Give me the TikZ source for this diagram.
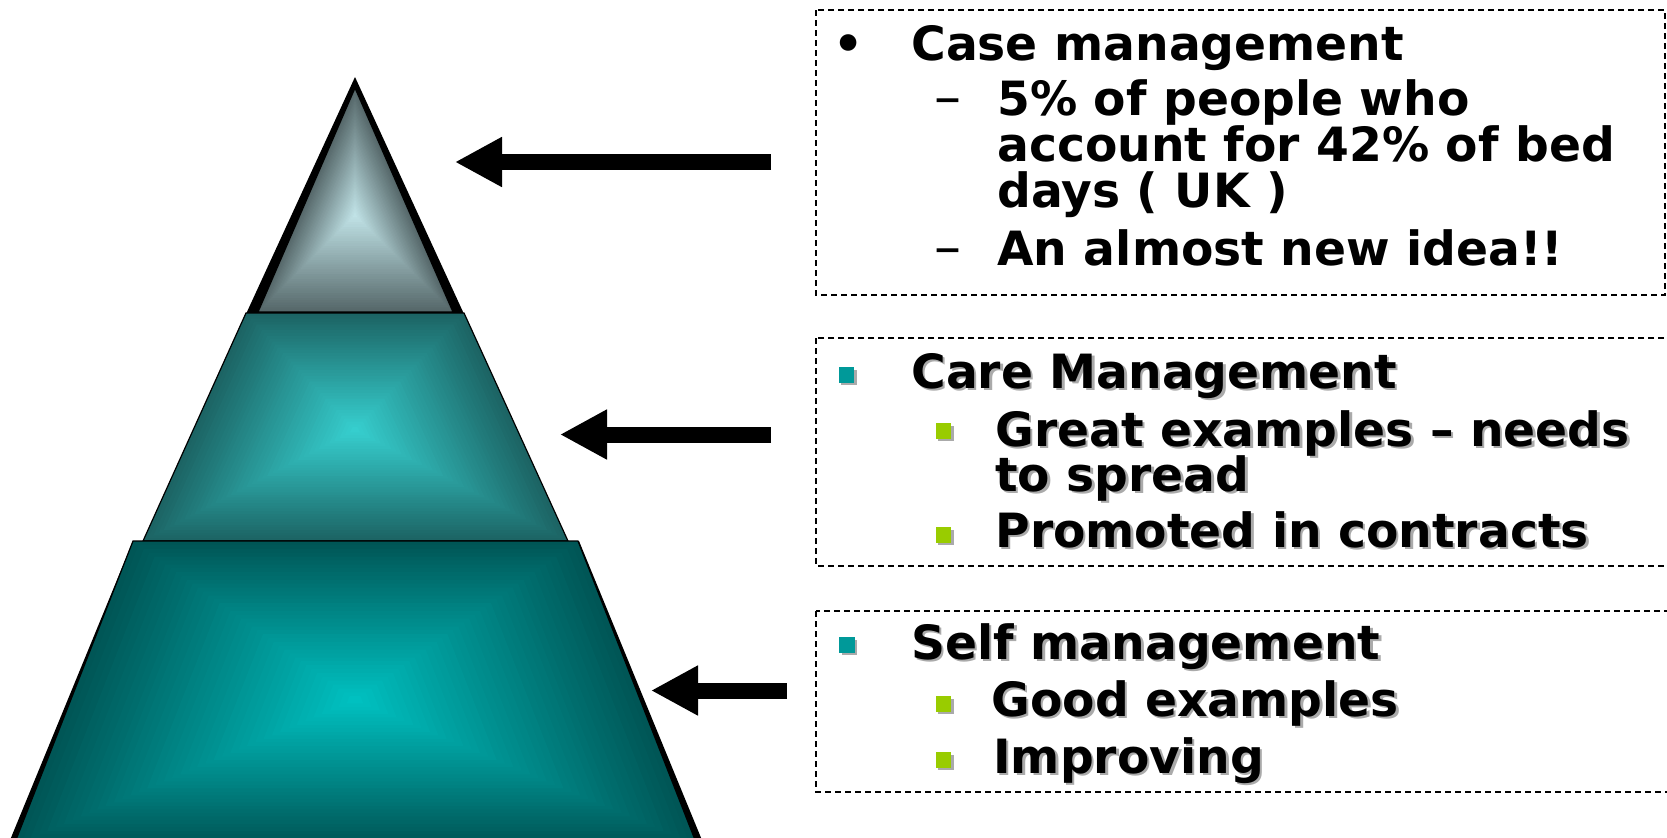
\documentclass[tikz,border=0pt]{standalone}
\usepackage{fontspec}
\setmainfont{DejaVu Sans}
\usetikzlibrary{arrows.meta}
\definecolor{tealbul}{RGB}{0,153,153}
\definecolor{greenbul}{RGB}{153,204,0}
\definecolor{shadowgrey}{RGB}{170,170,170}
\definecolor{botedge}{RGB}{0,86,86}
\definecolor{botcen}{RGB}{0,192,192}
\definecolor{midedge}{RGB}{28,100,100}
\definecolor{midcen}{RGB}{54,206,206}
\definecolor{topedge}{RGB}{86,104,106}
\definecolor{topcen}{RGB}{192,226,230}
\tikzset{
  txt/.style={anchor=base west, inner sep=0pt, font=\fontsize{23.6pt}{28pt}\selectfont\bfseries},
  dashtxt/.style={anchor=base west, inner sep=0pt, font=\fontsize{27pt}{28pt}\selectfont\mdseries},
  shd/.style={txt, text=shadowgrey},
  dbox/.style={draw=black, line width=0.6pt, dash pattern=on 3pt off 2pt},
  arr/.style={line width=8pt, -{Triangle[length=23.5pt,width=23.5pt]}},
  sqshadow/.style={fill=shadowgrey, minimum size=7.8pt, inner sep=0pt, draw=none},
  sqteal/.style={fill=tealbul, minimum size=7.8pt, inner sep=0pt, draw=none},
  sqgreen/.style={fill=greenbul, minimum size=7.8pt, inner sep=0pt, draw=none},
  outline/.style={draw=black, line width=0.6pt},
}
\newcommand\stxt[4]{%
  \node[shd] (#1s) at (#2+2.5,#3+2.5) {#4};
  \node[txt] (#1) at (#2,#3) {#4};}
\newcommand\sqb[4]{%
  \node[sqshadow] (#1s) at (#2+2.5,#3+2.5) {};
  \node[#4] (#1) at (#2,#3) {};}
\begin{document}
\begin{tikzpicture}[x=0.5pt,y=-0.5pt]
\useasboundingbox (0,0) rectangle (1667,837);
\begin{scope}
\clip (0,0) rectangle (1667,837);
% top triangle
\fill[black] (355,77) -- (464,314) -- (246,314) -- cycle;
\foreach \i in {0,...,40}{
  \pgfmathtruncatemacro\p{100*\i/40}
  \pgfmathsetmacro\s{1-\i/41}
  \fill[topcen!\p!topedge, scale around={\s:(355,215)}] (355,88) -- (453,312) -- (258,312) -- cycle;
}
\draw[outline] (355,88) -- (453,312) -- (258,312) -- cycle;
% middle trapezoid
\foreach \i in {0,...,40}{
  \pgfmathtruncatemacro\p{100*\i/40}
  \pgfmathsetmacro\s{1-\i/41}
  \fill[midcen!\p!midedge, scale around={\s:(355,430)}] (246,313) -- (464,313) -- (568,541) -- (143,541) -- cycle;
}
\draw[outline] (246,313) -- (464,313) -- (568,541) -- (143,541) -- cycle;
% bottom trapezoid
\fill[black] (133,541) -- (579,541) -- (704,845) -- (8,845) -- cycle;
\foreach \i in {0,...,40}{
  \pgfmathtruncatemacro\p{100*\i/40}
  \pgfmathsetmacro\s{1-\i/41}
  \fill[botcen!\p!botedge, scale around={\s:(355,700)}] (133,541) -- (578,541) -- (697,845) -- (14,845) -- cycle;
}
\draw[outline] (133,541) -- (578,541) -- (697,845) -- (14,845) -- cycle;
\end{scope}
% arrows
\coordinate (a1t) at (771,162);
\coordinate (a1h) at (455,162);
\coordinate (a2t) at (771,434.5);
\coordinate (a2h) at (560,434.5);
\coordinate (a3t) at (787,690.5);
\coordinate (a3h) at (651,690.5);
\draw[arr] (a1t) -- (a1h);
\draw[arr] (a2t) -- (a2h);
\draw[arr] (a3t) -- (a3h);
% boxes
\draw[dbox] (816,10) rectangle (1665,295);
\draw[dbox] (816,338) rectangle (1672,566);
\draw[dbox] (816,611) rectangle (1672,792);
% box 1 text
\node[txt] (b1) at (833,60) {•};
\node[txt] (t1) at (911,60) {Case management};
\node[dashtxt] (d1) at (934,115) {–};
\node[txt] (t2) at (997,115) {5\% of people who};
\node[txt] (t3) at (997,161) {account for 42\% of bed};
\node[txt] (t4) at (997,207) {days ( UK )};
\node[dashtxt] (d2) at (934,265) {–};
\node[txt] (t5) at (997,265) {An almost new idea!!};
% box 2 text
\sqb{q1}{846.5}{375}{sqteal}
\stxt{u1}{911}{388}{Care Management}
\sqb{q2}{943.5}{431}{sqgreen}
\stxt{u2}{995}{446}{Great examples – needs}
\stxt{u3}{995}{491}{to spread}
\sqb{q3}{943.5}{535}{sqgreen}
\stxt{u4}{995}{547}{Promoted in contracts}
% box 3 text
\sqb{q4}{847}{645}{sqteal}
\stxt{v1}{911}{659}{Self management}
\sqb{q5}{943.5}{704}{sqgreen}
\stxt{v2}{991}{716}{Good examples}
\sqb{q6}{943.5}{760}{sqgreen}
\stxt{v3}{993}{773}{Improving}
\end{tikzpicture}
\end{document}
